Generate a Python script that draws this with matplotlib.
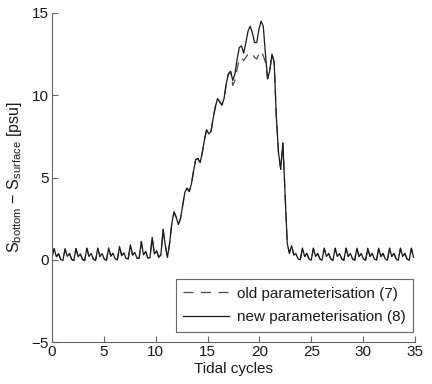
import numpy as np
import matplotlib
matplotlib.use("Agg")
import matplotlib.pyplot as plt

plt.rcParams['font.family'] = ['Liberation Sans', 'DejaVu Sans']
plt.rcParams['mathtext.fontset'] = 'custom'
plt.rcParams['mathtext.rm'] = 'Liberation Sans'
plt.rcParams['mathtext.it'] = 'Liberation Sans:italic'

# sampling step in tidal cycles (5 samples per ~1.05-cycle oscillation)
dt = 0.21

# Salinity difference, new parameterisation (8), one row per oscillation
new_param = [
    0.15, 0.68, 0.18, 0.36, 0.02,
    -0.05, 0.66, 0.20, 0.38, 0.03,
    -0.05, 0.68, 0.18, 0.36, 0.02,
    -0.05, 0.70, 0.20, 0.38, 0.03,
    -0.04, 0.70, 0.20, 0.38, 0.04,
    -0.03, 0.72, 0.22, 0.40, 0.05,
    0.00, 0.80, 0.25, 0.42, 0.08,
    0.05, 0.90, 0.28, 0.45, 0.10,
    0.08, 1.10, 0.30, 0.50, 0.12,
    0.12, 1.36, 0.35, 0.55, 0.15,
    0.30, 1.85, 0.90, 0.14, 1.00,
    2.20, 2.90, 2.60, 2.15, 2.50,
    3.30, 4.10, 4.35, 4.15, 4.60,
    5.40, 6.10, 6.15, 5.90, 6.50,
    7.30, 7.90, 7.65, 7.80, 8.60,
    9.30, 9.80, 9.60, 9.40, 9.80,
    10.70, 11.30, 11.45, 10.90, 11.30,
    12.20, 12.90, 13.00, 12.56, 13.20,
    13.90, 14.20, 13.80, 13.20, 13.20,
    14.00, 14.50, 14.20, 12.50, 11.00,
    11.50, 12.50, 12.00, 8.70, 6.50,
    5.50, 7.10, 4.00, 1.00, 0.40,
    0.85, 0.30, 0.35, 0.05, 0.00,
    0.70, 0.20, 0.38, 0.05, -0.03,
    0.70, 0.20, 0.38, 0.05, -0.03,
    0.70, 0.20, 0.38, 0.05, -0.03,
    0.70, 0.20, 0.38, 0.05, -0.03,
    0.70, 0.20, 0.38, 0.05, -0.03,
    0.70, 0.20, 0.38, 0.05, -0.03,
    0.70, 0.20, 0.38, 0.05, -0.03,
    0.70, 0.20, 0.38, 0.05, -0.03,
    0.70, 0.20, 0.38, 0.05, -0.03,
    0.70, 0.20, 0.38, 0.05, -0.03,
    0.70, 0.15,
]

# Salinity difference, old parameterisation (7)
old_param = [
    0.15, 0.68, 0.18, 0.36, 0.02,
    -0.05, 0.66, 0.20, 0.38, 0.03,
    -0.05, 0.68, 0.18, 0.36, 0.02,
    -0.05, 0.70, 0.20, 0.38, 0.03,
    -0.04, 0.70, 0.20, 0.38, 0.04,
    -0.03, 0.72, 0.22, 0.40, 0.05,
    0.00, 0.80, 0.25, 0.42, 0.08,
    0.05, 0.90, 0.28, 0.45, 0.10,
    0.08, 1.10, 0.30, 0.50, 0.12,
    0.12, 1.36, 0.35, 0.55, 0.15,
    0.30, 1.85, 0.90, 0.14, 1.00,
    2.20, 2.90, 2.60, 2.15, 2.50,
    3.30, 4.10, 4.35, 4.15, 4.60,
    5.40, 6.10, 6.15, 5.90, 6.50,
    7.30, 7.90, 7.65, 7.80, 8.60,
    9.30, 9.80, 9.60, 9.40, 9.80,
    10.70, 11.30, 11.45, 10.60, 10.90,
    11.60, 12.20, 12.30, 12.10, 12.30,
    12.50, 12.60, 12.50, 12.30, 12.20,
    12.50, 12.70, 12.40, 12.00, 11.00,
    11.50, 12.50, 12.00, 8.70, 6.50,
    5.50, 7.10, 4.00, 1.00, 0.40,
    0.85, 0.30, 0.35, 0.05, 0.00,
    0.70, 0.20, 0.38, 0.05, -0.03,
    0.70, 0.20, 0.38, 0.05, -0.03,
    0.70, 0.20, 0.38, 0.05, -0.03,
    0.70, 0.20, 0.38, 0.05, -0.03,
    0.70, 0.20, 0.38, 0.05, -0.03,
    0.70, 0.20, 0.38, 0.05, -0.03,
    0.70, 0.20, 0.38, 0.05, -0.03,
    0.70, 0.20, 0.38, 0.05, -0.03,
    0.70, 0.20, 0.38, 0.05, -0.03,
    0.70, 0.20, 0.38, 0.05, -0.03,
    0.70, 0.15,
]

t = np.arange(len(new_param)) * dt

xticks = [0, 5, 10, 15, 20, 25, 30, 35]
yticks = [-5, 0, 5, 10, 15]
legend_labels = ["old parameterisation (7)", "new parameterisation (8)"]

fig = plt.figure(figsize=(4.32, 3.84), dpi=100)
ax = fig.add_axes([52/432, 42/384, 363/432, 329/384])

ax.plot(t, old_param, color='0.3', lw=0.9, dashes=(8, 6), label=legend_labels[0])
ax.plot(t, new_param, color='0.1', lw=0.9, label=legend_labels[1])

ax.set_xlim(0, 35)
ax.set_ylim(-5, 15)
ax.set_xticks(xticks)
ax.set_yticks(yticks)
ax.set_yticklabels(['\u22125', '0', '5', '10', '15'])

for s in ['top', 'right']:
    ax.spines[s].set_visible(False)
for s in ['left', 'bottom']:
    ax.spines[s].set_color('0.4')
    ax.spines[s].set_linewidth(0.8)
ax.tick_params(direction='in', length=4, width=0.8, color='0.4',
               labelsize=11, pad=2.5, labelcolor='0.1')

ax.set_xlabel('Tidal cycles', fontsize=11, color='0.1')
ax.xaxis.set_label_coords(0.5, -0.062)
ax.set_ylabel(r'S$_{\mathrm{bottom}}$ $-$ S$_{\mathrm{surface}}$ [psu]', fontsize=11.5, color='0.1')
ax.yaxis.set_label_coords(-0.078, 0.5)

leg = ax.legend(loc='lower right', bbox_to_anchor=(0.995, 0.03), borderaxespad=0,
                fontsize=11, handlelength=3.0, handletextpad=0.5, labelspacing=0.65,
                borderpad=0.5, fancybox=False, framealpha=1)
leg.get_frame().set_edgecolor('0.4')
leg.get_frame().set_linewidth(0.8)
for txt in leg.get_texts():
    txt.set_color('0.1')

fig.savefig('out.png', dpi=100)
